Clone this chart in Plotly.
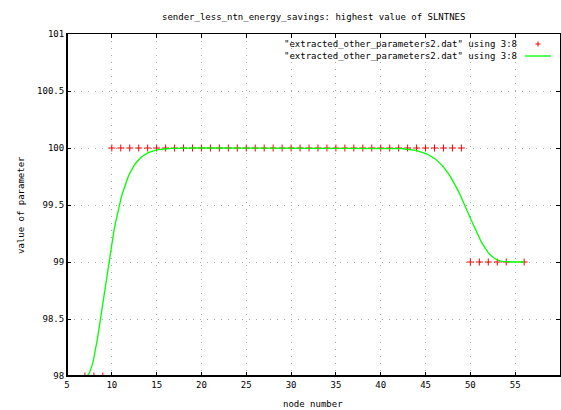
import numpy as np
import plotly.graph_objects as go
from math import comb

# ---- data ----
node_number = [7, 8, 9] + list(range(10, 50)) + [50, 51, 52, 53, 54, 56]
param_value = [98, 98, 98] + [100] * 40 + [99, 99, 99, 99, 99, 99]

title_text = "sender_less_ntn_energy_savings: highest value of SLNTNES"
legend_label = '"extracted_other_parameters2.dat" using 3:8'
x_ticks = [5, 10, 15, 20, 25, 30, 35, 40, 45, 50, 55, 60]
y_ticks = [98, 98.5, 99, 99.5, 100, 100.5, 101]
y_tick_text = ["98", "98.5", "99", "99.5", "100", "100.5", "101"]

# gnuplot-style "smooth bezier" of the same data
def bezier(xs, ys, samples=300):
    xs = np.asarray(xs, float)
    ys = np.asarray(ys, float)
    n = len(xs) - 1
    t = np.linspace(0, 1, samples)
    coefs = np.array([comb(n, i) for i in range(n + 1)], float)
    B = coefs[None, :] * (t[:, None] ** np.arange(n + 1)) * ((1 - t[:, None]) ** (n - np.arange(n + 1)))
    return B @ xs, B @ ys

bx, by = bezier(node_number, param_value)

W, H = 561, 410
L, R, T, Bm = 67, 1, 34, 34
pw, ph = W - L - R, H - T - Bm

def px(x):
    return (x - L) / pw

def py(y):
    return (H - Bm - y) / ph

font = dict(family="DejaVu Sans Mono", size=9, color="black")

fig = go.Figure()
fig.add_trace(go.Scatter(
    x=node_number, y=param_value, mode="markers",
    marker=dict(symbol="cross-thin", size=5, line=dict(color="red", width=1)),
    showlegend=False, hoverinfo="skip"))
fig.add_trace(go.Scatter(
    x=bx, y=by, mode="lines", line=dict(color="#00ff00", width=1.3),
    showlegend=False, hoverinfo="skip"))

grid = dict(showgrid=True, gridcolor="#a8a8a8", gridwidth=1, griddash="1px,6px")
fig.update_xaxes(range=[5, 60], tickvals=x_ticks, ticks="inside", ticklen=4,
                 tickcolor="black", showline=True, linecolor="black", linewidth=1,
                 mirror="ticks", zeroline=False, tickfont=font, **grid)
fig.update_yaxes(range=[98, 101], tickvals=y_ticks, ticktext=y_tick_text,
                 ticks="inside", ticklen=4, tickcolor="black", showline=True,
                 linecolor="black", linewidth=1, mirror="ticks", zeroline=False,
                 tickfont=font, **grid)

shapes = [
    dict(type="line", xref="paper", yref="paper", x0=0, x1=1, y0=0, y1=0,
         line=dict(color="black", width=2)),
    dict(type="line", xref="paper", yref="paper", x0=0, x1=0, y0=0, y1=1,
         line=dict(color="black", width=2)),
    dict(type="line", xref="paper", yref="paper", x0=px(525), x1=px(551),
         y0=py(56), y1=py(56), line=dict(color="#00ff00", width=1.3)),
    dict(type="line", xref="paper", yref="paper", x0=px(535.5), x1=px(540.5),
         y0=py(44), y1=py(44), line=dict(color="red", width=1)),
    dict(type="line", xref="paper", yref="paper", x0=px(538), x1=px(538),
         y0=py(41.5), y1=py(46.5), line=dict(color="red", width=1)),
]

annotations = [
    dict(text=title_text, xref="paper", yref="paper", x=px(313), y=py(17),
         showarrow=False, font=font, xanchor="center", yanchor="middle"),
    dict(text="node number", xref="paper", yref="paper", x=px(313), y=py(404),
         showarrow=False, font=font, xanchor="center", yanchor="middle"),
    dict(text="value of parameter", xref="paper", yref="paper", x=px(21), y=py(205),
         showarrow=False, font=font, textangle=-90, xanchor="center", yanchor="middle"),
    dict(text=legend_label, xref="paper", yref="paper", x=px(519), y=py(44),
         showarrow=False, font=font, xanchor="right", yanchor="middle"),
    dict(text=legend_label, xref="paper", yref="paper", x=px(519), y=py(56),
         showarrow=False, font=font, xanchor="right", yanchor="middle"),
]

fig.update_layout(width=W, height=H, margin=dict(l=L, r=R, t=T, b=Bm),
                  paper_bgcolor="white", plot_bgcolor="white",
                  shapes=shapes, annotations=annotations, showlegend=False)

fig.write_html("out.html")
